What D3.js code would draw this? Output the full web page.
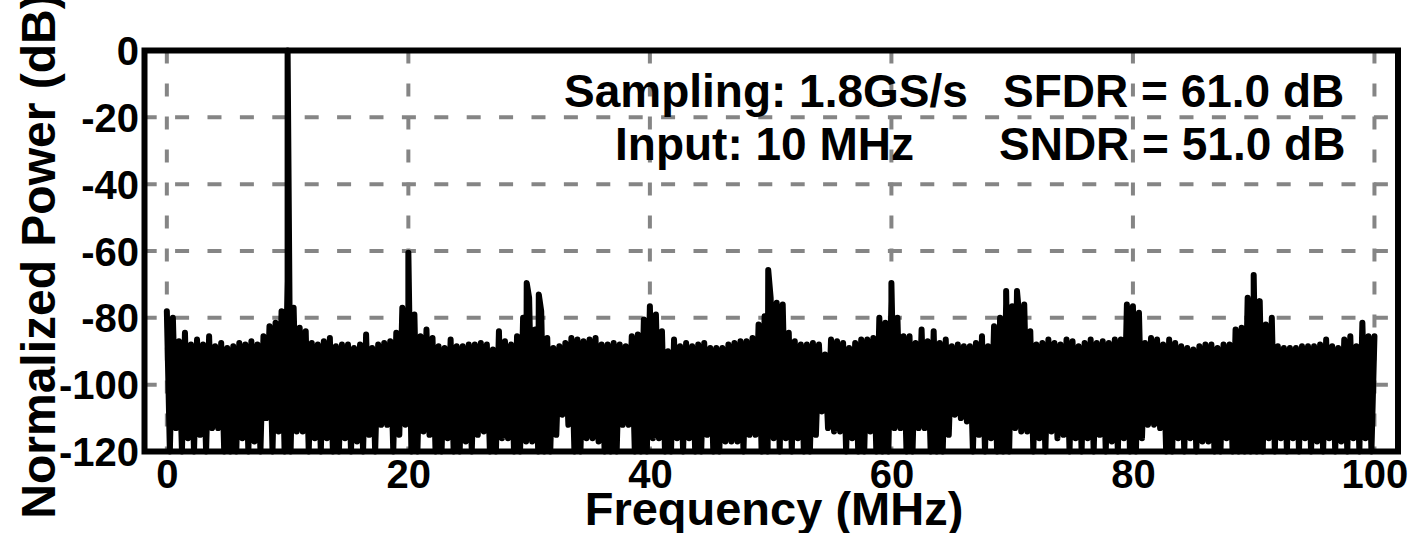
<!DOCTYPE html>
<html>
<head>
<meta charset="utf-8">
<script src="https://cdnjs.cloudflare.com/ajax/libs/d3/7.8.5/d3.min.js"></script>
<style>
    html, body { margin: 0; padding: 0; background: #fff; }
    svg { display: block; }
    text { font-family: "Liberation Sans", Arial, Helvetica, sans-serif; font-weight: bold; fill: #000; }
</style>
</head>
<body>
<svg width="1412" height="533"></svg>
<script>
// spectrum: noise peaks every 0.5 MHz (0 .. 100 MHz)
var binStep = 0.5;
var noiseTop = [
    -78, -80, -87, -84.5, -88, -86.5, -88, -85.5, -88.5, -87.5,
    -89, -88.5, -87.5, -88, -87, -88, -85.5, -82.5, -81.5, -78,
    -69, -77, -83, -84, -87.5, -88, -87, -86, -88.5, -88,
    -88, -89, -88, -85, -89, -88, -87.5, -87, -84.5, -77,
    -77, -79, -85.5, -83.5, -86, -88.5, -89, -86.5, -88.5, -88.5,
    -88, -88, -87.5, -88, -89.5, -84, -87, -88, -85.5, -80,
    -74, -83.5, -78, -86, -89, -88.5, -87.5, -86, -86.5, -87,
    -86.5, -86, -88, -88, -87.5, -88, -88.5, -85.5, -85, -80.5,
    -76.5, -79, -84, -90, -86.5, -88.5, -87.5, -88.5, -88, -87.5,
    -89, -89, -89, -88, -87.5, -87, -87, -86, -82, -79.5,
    -74, -75.5, -76, -84.5, -87, -88, -88, -87.5, -88, -91,
    -86.5, -87, -87.5, -89, -87.5, -86.5, -86.5, -86, -80, -81.5,
    -75, -80, -85.5, -85.5, -87.5, -83.5, -87, -84, -87.5, -86.5,
    -88.5, -88, -88.5, -88.5, -87.5, -85.5, -88.5, -82.5, -80, -76,
    -76.5, -76, -76, -84, -88, -87.5, -86.5, -87.5, -88, -86.5,
    -87, -88.5, -87.5, -86.5, -87.5, -87, -87.5, -86.5, -86.5, -76,
    -76.5, -78.5, -87.5, -86, -86.5, -88, -86.5, -87.5, -88.5, -89,
    -89.5, -88.5, -88, -88, -89, -88, -88, -83.5, -83, -74,
    -74, -75, -82, -80, -88.5, -89, -89, -89, -88.5, -88.5,
    -88.5, -88, -86.5, -88.5, -89, -86.5, -85.5, -88.5, -81.5, -85.5,
    -85.5
];
// noise dips, halfway between the peaks (0.25 .. 99.75 MHz)
var noiseBottom = [
    -120, -113, -120, -116, -120, -115, -120, -113, -113, -120,
    -120, -120, -116, -120, -117, -120, -110, -120, -114, -120,
    -120, -114, -114, -120, -116, -120, -116, -120, -120, -116,
    -120, -117, -120, -115, -120, -112, -112, -120, -115, -112,
    -120, -120, -114, -115, -120, -120, -116, -120, -120, -117,
    -120, -115, -114, -120, -120, -116, -116, -120, -120, -117,
    -117, -120, -120, -120, -115, -109, -112, -120, -120, -116,
    -116, -117, -120, -120, -120, -112, -112, -120, -120, -120,
    -116, -116, -120, -120, -116, -120, -116, -120, -120, -115,
    -120, -120, -117, -117, -117, -120, -115, -115, -120, -120,
    -116, -120, -116, -120, -116, -120, -120, -115, -108, -113,
    -114, -114, -120, -116, -120, -120, -114, -120, -120, -120,
    -113, -113, -120, -120, -113, -113, -120, -120, -120, -115,
    -109, -110, -111, -120, -115, -120, -116, -120, -120, -120,
    -113, -114, -114, -120, -116, -120, -114, -116, -115, -120,
    -116, -120, -116, -120, -115, -120, -117, -120, -116, -120,
    -120, -116, -112, -112, -113, -120, -120, -116, -120, -116,
    -120, -117, -117, -120, -120, -116, -120, -120, -120, -120,
    -120, -120, -116, -120, -116, -120, -116, -120, -116, -120,
    -117, -120, -116, -120, -117, -120, -116, -120, -116, -120
];
// tone and harmonic spurs
var spurFreq = [10, 20, 29.8, 30.8, 49.8, 60, 69.5, 70.4, 90];
var spurLevel = [0, -60.5, -69.6, -73, -65.7, -69.6, -72, -72, -67.2];

var xTicks = [0, 20, 40, 60, 80, 100];
var yTicks = [-120, -100, -80, -60, -40, -20, 0];
var noteLeft = ["Sampling: 1.8GS/s", "Input: 10 MHz"];
var noteRight = ["SFDR = 61.0 dB", "SNDR = 51.0 dB"];

window.onload = main;

function main() {
    var svg = d3.select("svg");

    var x = d3.scaleLinear().domain([-1.85, 101.95]).range([144.5, 1398]);
    var y = d3.scaleLinear().domain([-120, 0]).range([451.5, 50.5]);

    // merge peaks, dips and spurs into one trace
    var points = [];
    noiseTop.forEach(function (v, i) { points.push([i * binStep, v]); });
    noiseBottom.forEach(function (v, i) { points.push([i * binStep + binStep / 2, v]); });
    spurFreq.forEach(function (f, i) { points.push([f, spurLevel[i]]); });
    points.sort(function (a, b) { return a[0] - b[0]; });

    // grid
    var grid = svg.append("g").attr("stroke", "#858585").attr("stroke-width", 4);
    grid.selectAll("line.vg")
        .data(xTicks)
        .enter()
        .append("line")
        .attr("class", "vg")
        .attr("x1", function (d) { return x(d); })
        .attr("x2", function (d) { return x(d); })
        .attr("y1", y(0))
        .attr("y2", y(-120))
        .attr("stroke-dasharray", "13,20");
    grid.selectAll("line.hg")
        .data(yTicks.slice(1, -1))
        .enter()
        .append("line")
        .attr("class", "hg")
        .attr("x1", x(-2))
        .attr("x2", x(101.95))
        .attr("y1", function (d) { return y(d); })
        .attr("y2", function (d) { return y(d); })
        .attr("stroke-dasharray", "14,18.4");

    // spectrum
    var line = d3.line()
        .x(function (d) { return x(d[0]); })
        .y(function (d) { return y(d[1]); });
    svg.append("path")
        .datum(points)
        .attr("d", line)
        .attr("fill", "none")
        .attr("stroke", "#000")
        .attr("stroke-width", 6)
        .attr("stroke-linejoin", "round")
        .attr("stroke-linecap", "round");

    // box
    svg.append("rect")
        .attr("x", x(-1.85))
        .attr("y", y(0))
        .attr("width", x(101.95) - x(-1.85))
        .attr("height", y(-120) - y(0))
        .attr("fill", "none")
        .attr("stroke", "#000")
        .attr("stroke-width", 6);

    // axes (labels only)
    var yAxis = svg.append("g")
        .attr("transform", "translate(" + x(-1.85) + ",0)")
        .call(d3.axisLeft(y).tickValues(yTicks).tickSize(0).tickPadding(5.5)
            .tickFormat(function (d) { return String(d); }));
    var xAxis = svg.append("g")
        .attr("transform", "translate(0," + y(-120) + ")")
        .call(d3.axisBottom(x).tickValues(xTicks).tickSize(0).tickPadding(8)
            .tickFormat(function (d) { return String(d); }));
    [xAxis, yAxis].forEach(function (g) {
        g.select(".domain").remove();
        g.selectAll("text")
            .attr("font-size", 40)
            .attr("font-family", null)
            .attr("fill", "#000");
        g.attr("font-family", null).attr("font-size", null);
    });
    yAxis.selectAll("text").attr("dy", "0.35em");

    // titles
    svg.append("text")
        .attr("x", 774)
        .attr("y", 525)
        .attr("text-anchor", "middle")
        .attr("font-size", 47)
        .text("Frequency (MHz)");
    svg.append("text")
        .attr("transform", "translate(55,256) rotate(-90)")
        .attr("text-anchor", "middle")
        .attr("font-size", 48)
        .text("Normalized Power (dB)");

    // notes
    var noteY = [107, 160];
    svg.selectAll("text.noteL")
        .data(noteLeft)
        .enter()
        .append("text")
        .attr("class", "noteL")
        .attr("x", function (d, i) { return i === 0 ? 564 : 615; })
        .attr("y", function (d, i) { return noteY[i]; })
        .attr("font-size", 46)
        .text(function (d) { return d; });
    svg.selectAll("text.noteR")
        .data(noteRight)
        .enter()
        .append("text")
        .attr("class", "noteR")
        .attr("x", function (d, i) { return i === 0 ? 1003 : 999; })
        .attr("y", function (d, i) { return noteY[i]; })
        .attr("font-size", 46)
        .text(function (d) { return d; });
}
</script>
</body>
</html>
